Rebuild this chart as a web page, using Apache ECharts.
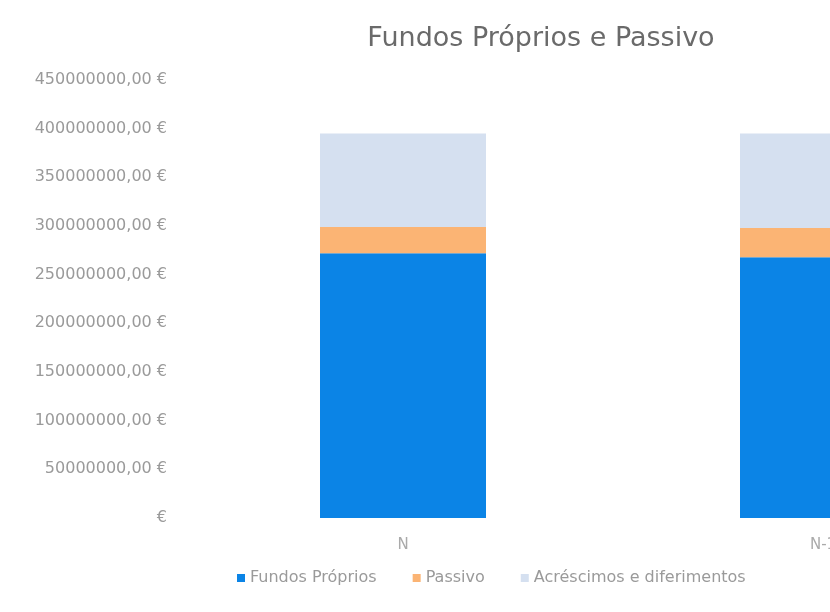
<!DOCTYPE html>
<html>
<head>
<meta charset="utf-8">
<script src="https://cdn.jsdelivr.net/npm/echarts@6/dist/echarts.min.js"></script>
<style>
  html, body { margin: 0; padding: 0; background: #fff; }
  #chart { width: 830px; height: 612px; }
</style>
</head>
<body>
<div id="chart"></div>
<script>
// categories (the second one is cut off at the right edge)
var categories = ['N', 'N-1'];

// series values (euros)
var fundosProprios = [272000000, 268000000];
var passivo = [27000000, 30000000];
var acrescimos = [96000000, 97000000];

// y axis tick labels, from 0 to 450 000 000
var tickLabels = ['€', '50000000,00 €', '100000000,00 €', '150000000,00 €', '200000000,00 €',
    '250000000,00 €', '300000000,00 €', '350000000,00 €', '400000000,00 €', '450000000,00 €'];

var chart = echarts.init(document.getElementById('chart'));

var option = {
    backgroundColor: '#fff',
    animation: false,
    title: {
        text: 'Fundos Próprios e Passivo',
        left: 536,
        top: 20,
        textAlign: 'center',
        textStyle: {
            fontFamily: 'DejaVu Sans',
            fontSize: 27,
            fontWeight: 'normal',
            color: '#6a6a6a'
        }
    },
    legend: {
        left: 232,
        top: 565,
        icon: 'rect',
        itemWidth: 8,
        itemHeight: 8,
        itemGap: 36,
        textStyle: {
            fontFamily: 'DejaVu Sans',
            fontSize: 16,
            color: '#9a9a9a'
        },
        data: ['Fundos Próprios', 'Passivo', 'Acréscimos e diferimentos']
    },
    grid: {
        left: 193,
        top: 80,
        width: 840,
        height: 438,
        outerBoundsMode: 'none'
    },
    xAxis: {
        type: 'category',
        data: categories,
        axisLine: { show: false },
        axisTick: { show: false },
        axisLabel: {
            margin: 20,
            fontFamily: 'DejaVu Sans',
            fontSize: 15,
            color: '#aaaaaa'
        }
    },
    yAxis: {
        type: 'value',
        min: 0,
        max: 450000000,
        interval: 50000000,
        axisLine: { show: false },
        axisTick: { show: false },
        splitLine: { show: false },
        axisLabel: {
            margin: 26,
            fontFamily: 'DejaVu Sans',
            fontSize: 16,
            color: '#9a9a9a',
            formatter: function (value) {
                return tickLabels[Math.round(value / 50000000)];
            }
        }
    },
    series: [
        {
            name: 'Fundos Próprios',
            type: 'bar',
            stack: 'total',
            barWidth: 166,
            itemStyle: { color: '#0b84e6' },
            data: fundosProprios
        },
        {
            name: 'Passivo',
            type: 'bar',
            stack: 'total',
            barWidth: 166,
            itemStyle: { color: '#fbb474' },
            data: passivo
        },
        {
            name: 'Acréscimos e diferimentos',
            type: 'bar',
            stack: 'total',
            barWidth: 166,
            itemStyle: { color: '#d5e0f0' },
            data: acrescimos
        }
    ]
};

chart.setOption(option);
</script>
</body>
</html>
